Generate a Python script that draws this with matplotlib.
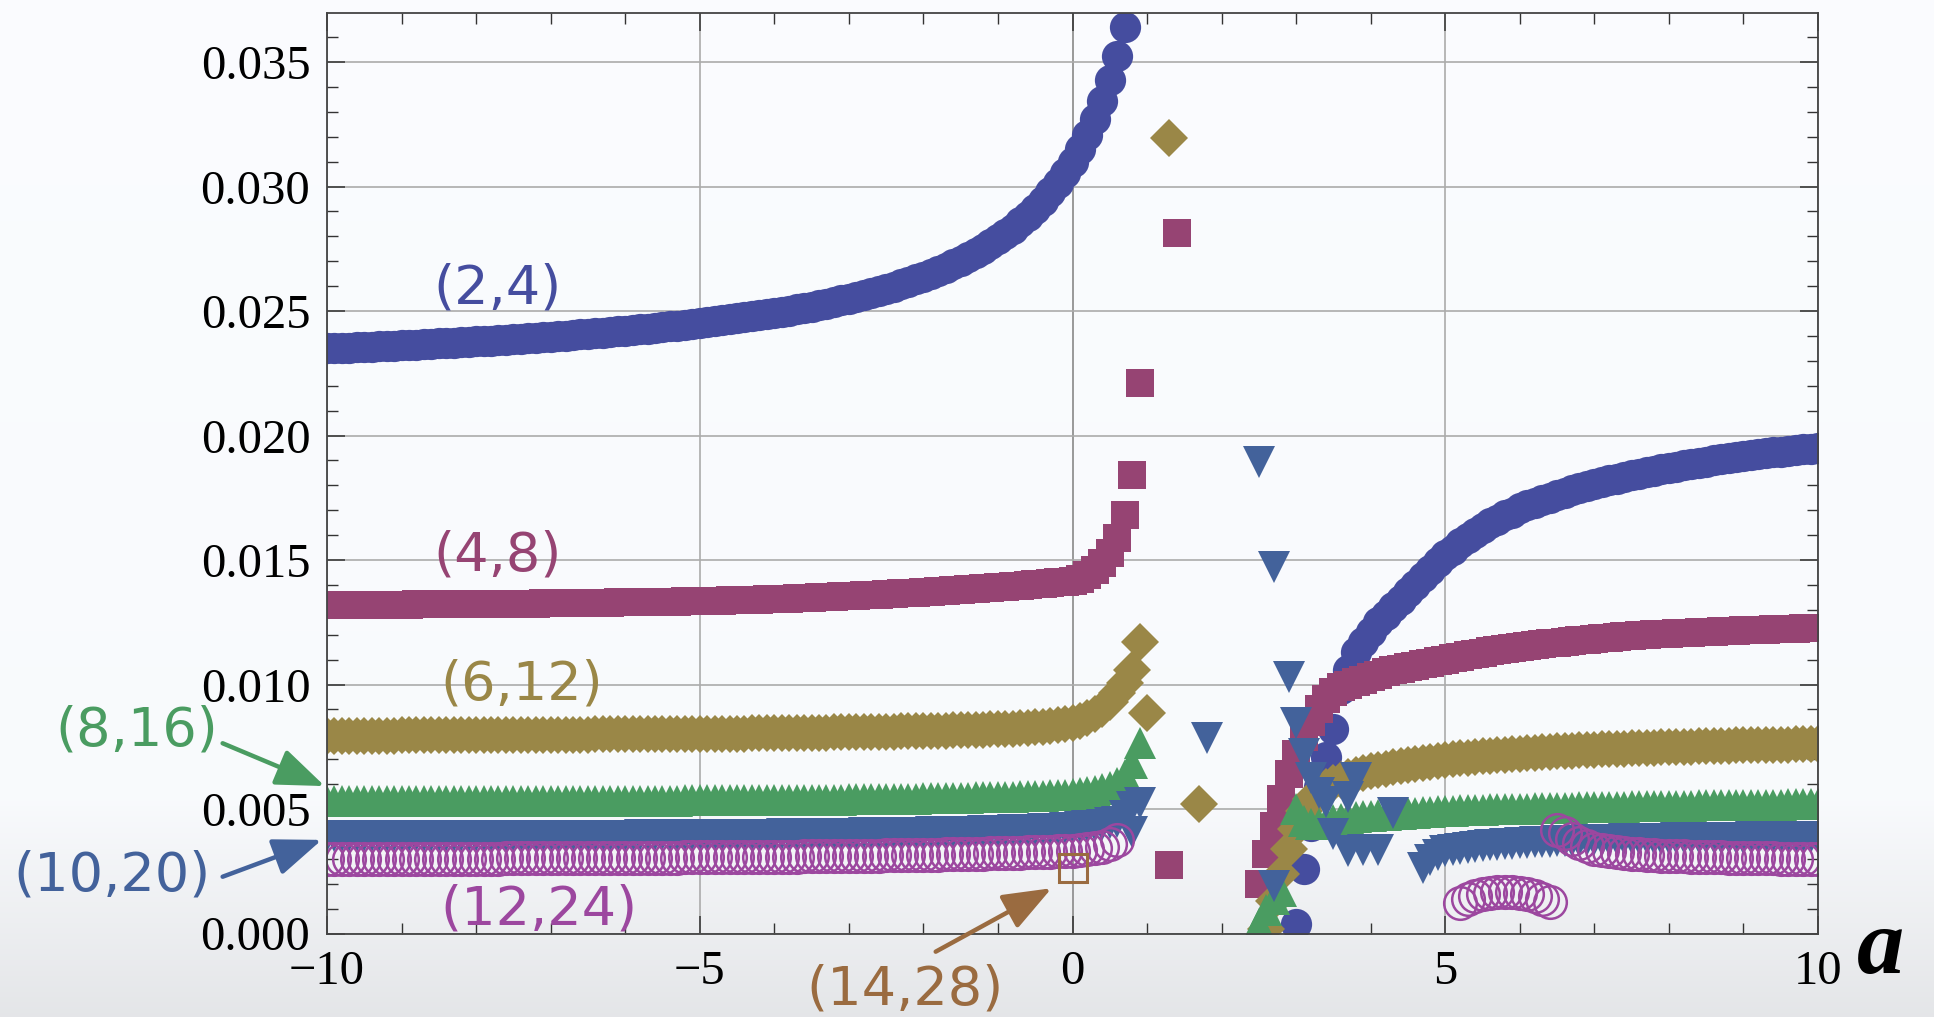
import numpy as np
import matplotlib
matplotlib.use("Agg")
import matplotlib.pyplot as plt
from matplotlib.ticker import MultipleLocator, FormatStrFormatter

# values are in units of 1e-5; each branch is sampled every 0.1 in a,
# starting at the given a value

# (2,4) filled circles
circ_left_start = -10.0
circ_left = [2350, 2351, 2352, 2353, 2355, 2356, 2357, 2358, 2360, 2361,
             2363, 2364, 2365, 2367, 2368, 2370, 2371, 2373, 2375, 2376,
             2378, 2380, 2381, 2383, 2385, 2387, 2389, 2391, 2393, 2395,
             2397, 2399, 2401, 2403, 2406, 2408, 2410, 2413, 2415, 2418,
             2420, 2423, 2426, 2429, 2432, 2435, 2438, 2441, 2444, 2448,
             2451, 2455, 2458, 2462, 2466, 2470, 2474, 2478, 2483, 2487,
             2492, 2497, 2502, 2507, 2513, 2518, 2524, 2530, 2537, 2543,
             2550, 2557, 2565, 2572, 2580, 2589, 2598, 2607, 2617, 2627,
             2638, 2649, 2661, 2674, 2688, 2702, 2717, 2733, 2750, 2768,
             2788, 2809, 2831, 2856, 2882, 2911, 2942, 2976, 3013, 3054,
             3100, 3150, 3207, 3272, 3345, 3429, 3526, 3641]
circ_right_start = 3.0
circ_right = [40, 260, 430, 590, 710, 820, 980, 1060, 1130, 1170,
              1210, 1250, 1280, 1310, 1340, 1370, 1400, 1430, 1460, 1490,
              1520, 1540, 1570, 1590, 1610, 1630, 1650, 1660, 1680, 1690,
              1710, 1720, 1730, 1740, 1750, 1760, 1770, 1780, 1790, 1797,
              1805, 1812, 1820, 1827, 1834, 1840, 1846, 1852, 1858, 1864,
              1870, 1875, 1880, 1885, 1890, 1895, 1900, 1904, 1908, 1912,
              1916, 1920, 1924, 1928, 1932, 1935, 1938, 1941, 1944, 1947,
              1950]

# (4,8) filled squares
sq_left_start = -10.0
sq_left = [1319, 1319, 1319, 1320, 1320, 1320, 1320, 1321, 1321, 1321,
           1321, 1321, 1322, 1322, 1322, 1322, 1322, 1323, 1323, 1323,
           1323, 1323, 1324, 1324, 1324, 1325, 1325, 1325, 1325, 1326,
           1326, 1326, 1327, 1327, 1327, 1328, 1328, 1329, 1329, 1330,
           1330, 1330, 1331, 1331, 1332, 1332, 1333, 1333, 1334, 1334,
           1335, 1336, 1336, 1337, 1338, 1339, 1339, 1340, 1341, 1342,
           1343, 1344, 1345, 1346, 1347, 1349, 1350, 1351, 1353, 1354,
           1356, 1357, 1358, 1360, 1361, 1363, 1364, 1366, 1367, 1369,
           1371, 1373, 1374, 1376, 1378, 1380, 1382, 1384, 1386, 1388,
           1390, 1392, 1394, 1397, 1399, 1402, 1405, 1408, 1411, 1413,
           1416, 1425, 1438, 1458, 1488, 1530, 1590, 1680, 1840, 2210]
sq_right_start = 2.5
sq_right = [200, 320, 430, 540, 640, 720, 790, 850, 900, 940,
            970, 990, 1000, 1010, 1020, 1030, 1040, 1050, 1057, 1064,
            1070, 1076, 1082, 1088, 1094, 1100, 1106, 1112, 1117, 1123,
            1128, 1133, 1137, 1142, 1146, 1150, 1154, 1158, 1161, 1165,
            1168, 1171, 1174, 1177, 1180, 1183, 1186, 1188, 1191, 1193,
            1195, 1197, 1199, 1201, 1202, 1204, 1205, 1207, 1208, 1210,
            1211, 1212, 1213, 1215, 1216, 1217, 1218, 1219, 1220, 1221,
            1222, 1223, 1224, 1225, 1226, 1227]
sq_extra_a = [1.3, 1.4]
sq_extra = [275, 2812]

# (6,12) filled diamonds
dia_left_start = -10.0
dia_left = [794, 794, 794, 794, 795, 795, 795, 795, 795, 795,
            796, 796, 796, 796, 796, 796, 796, 797, 797, 797,
            797, 797, 797, 797, 798, 798, 798, 798, 798, 798,
            799, 799, 799, 799, 799, 799, 800, 800, 800, 800,
            800, 800, 800, 801, 801, 801, 801, 801, 802, 802,
            802, 802, 802, 803, 803, 803, 803, 804, 804, 804,
            805, 805, 805, 806, 806, 806, 807, 807, 808, 808,
            808, 809, 809, 810, 810, 811, 811, 812, 812, 813,
            813, 814, 814, 815, 816, 816, 817, 818, 819, 820,
            821, 822, 823, 825, 826, 828, 830, 833, 836, 840,
            845, 855, 866, 880, 900, 928, 966, 1005, 1060, 1172]
dia_right_start = 2.6
dia_right = [20, 130, 240, 340, 420, 490, 540, 570, 590, 605,
             617, 627, 636, 644, 651, 657, 662, 667, 672, 677,
             681, 685, 689, 693, 697, 700, 703, 706, 709, 711,
             713, 715, 717, 719, 721, 723, 725, 727, 729, 731,
             733, 734, 735, 736, 738, 739, 740, 741, 742, 743,
             744, 745, 746, 747, 748, 749, 750, 751, 752, 753,
             754, 754, 755, 756, 756, 757, 757, 758, 758, 759,
             759, 760, 760, 761, 761]
dia_extra_a = [1.0, 1.3, 1.7]
dia_extra = [884, 3193, 520]

# (8,16) triangles up
tup_left_start = -10.0
tup_left = [531, 531, 531, 531, 531, 531, 531, 531, 531, 531,
            531, 531, 531, 532, 532, 532, 532, 532, 532, 532,
            532, 532, 532, 532, 532, 532, 532, 533, 533, 533,
            533, 533, 533, 533, 533, 533, 533, 533, 534, 534,
            534, 534, 534, 534, 534, 534, 534, 534, 535, 535,
            535, 535, 535, 535, 535, 535, 536, 536, 536, 536,
            536, 536, 537, 537, 537, 537, 538, 538, 538, 538,
            539, 539, 539, 540, 540, 540, 541, 541, 542, 542,
            543, 543, 544, 544, 545, 545, 546, 547, 547, 548,
            549, 549, 550, 551, 552, 553, 554, 555, 556, 558,
            560, 563, 567, 572, 579, 588, 605, 635, 685, 764]
tup_right_start = 2.5
tup_right = [40, 95, 140, 170, np.nan, 500, 450, 440, 440, 448,
             455, 460, 464, 467, 470, 472, 474, 476, 478, 480,
             482, 484, 486, 488, 490, 492, 493, 494, 495, 496,
             497, 498, 499, 500, 501, 502, 502, 503, 504, 504,
             505, 506, 506, 507, 507, 508, 509, 509, 510, 510,
             511, 511, 512, 512, 513, 513, 513, 514, 514, 515,
             515, 515, 516, 516, 516, 517, 517, 517, 518, 518,
             518, 519, 519, 519, 520, 520]

# (10,20) triangles down
tdn_left_start = -10.0
tdn_left = [390, 390, 390, 390, 390, 390, 390, 390, 391, 391,
            391, 391, 391, 391, 391, 391, 391, 391, 391, 391,
            391, 392, 392, 392, 392, 392, 392, 392, 392, 392,
            392, 392, 392, 393, 393, 393, 393, 393, 393, 393,
            393, 393, 394, 394, 394, 394, 394, 394, 395, 395,
            395, 395, 395, 396, 396, 396, 396, 397, 397, 397,
            397, 398, 398, 398, 399, 399, 399, 400, 400, 400,
            401, 401, 402, 402, 403, 403, 403, 404, 404, 405,
            405, 406, 406, 407, 407, 408, 409, 409, 410, 411,
            412, 413, 414, 415, 416, 417, 418, 420, 421, 423,
            425, 427, 430, 433, 437, 442, 448, 470, 510, 525]
tdn_right_start = 4.7
tdn_right = [262, 295, 315,
             330, 336, 341, 345, 349, 352, 355, 357, 359, 361,
             363, 365, 366, 368, 369, 370, 371, 372, 373, 374,
             375, 376, 377, 377, 378, 379, 379, 380, 380, 381,
             381, 382, 382, 383, 383, 384, 384, 384, 385, 385,
             385, 386, 386, 386, 387, 387, 387, 388, 388, 388,
             389]
tdn_extra_a = [0.8, 1.8, 2.5, 2.7, 2.7, 2.9, 3.0, 3.1, 3.2, 3.3,
               3.4, 3.5, 3.7, 3.7, 3.8, 3.9, 4.1, 4.3]
tdn_extra = [409, 784, 1895, 1473, 190, 1031, 844, 720, 625, 563,
             530, 400, 550, 330, 623, 335, 335, 483]

# (12,24) open circles
ring_left_start = -10.0
ring_left = [299, 299, 299, 299, 299, 299, 299, 300, 300, 300,
             300, 300, 300, 300, 300, 300, 301, 301, 301, 301,
             301, 301, 301, 301, 302, 302, 302, 302, 302, 302,
             302, 303, 303, 303, 303, 303, 303, 304, 304, 304,
             304, 304, 304, 305, 305, 305, 305, 305, 306, 306,
             306, 306, 306, 307, 307, 307, 307, 308, 308, 308,
             308, 309, 309, 309, 310, 310, 310, 311, 311, 311,
             312, 312, 312, 313, 313, 314, 314, 315, 315, 316,
             316, 317, 317, 318, 318, 319, 320, 320, 321, 322,
             323, 323, 324, 325, 326, 327, 328, 329, 330, 331,
             333, 335, 338, 342, 348, 358, 376]
ring_arc_start = 5.2
ring_arc = [122, 138, 150, 158, 164, 167, 168, 167, 163, 157, 149, 138, 125]
ring_right_start = 6.5
ring_right = [416, 402, 380, 362, 350, 341, 335, 330, 326, 323,
              320, 318, 316, 314, 313, 312, 311, 310, 309, 308,
              307, 306, 306, 305, 304, 304, 303, 303, 302, 302,
              301, 301, 300, 300, 300, 299]

# (14,28) open square
osq_a = [0.0]
osq = [263]

C_CIRC = "#454d9f"
C_SQ = "#964473"
C_DIA = "#9a8747"
C_TUP = "#4a9c61"
C_TDN = "#43629b"
C_RING = "#9c479f"
C_OSQ = "#9a6b40"

SCALE = 1e-5


def grid(start, vals):
    return start + 0.1 * np.arange(len(vals))


def pts(vals):
    return np.asarray(vals, dtype=float) * SCALE


fig = plt.figure(figsize=(19.34, 10.17), dpi=100)

# pale background with the grey fade at the bottom of the slide
bg = fig.add_axes([0, 0, 1, 1], zorder=-10)
rows = np.linspace(0, 1017, 400)
shade = np.interp(rows, [0, 800, 1017], [0.982, 0.975, 0.895])
tint = np.stack([shade, shade + 0.006, shade + 0.016], axis=-1)
bg.imshow(np.clip(tint, 0, 1)[:, None, :], aspect="auto", extent=[0, 1, 0, 1])
bg.axis("off")

ax = fig.add_axes([327 / 1934, 1 - 933.5 / 1017, (1818 - 327) / 1934, 920.5 / 1017])
ax.set_facecolor("none")

filled = dict(linestyle="none", markeredgewidth=0)

for start, vals in [(circ_left_start, circ_left), (circ_right_start, circ_right)]:
    ax.plot(grid(start, vals), pts(vals), marker="o", ms=22.5, color=C_CIRC, **filled)

for start, vals in [(sq_left_start, sq_left), (sq_right_start, sq_right)]:
    ax.plot(grid(start, vals), pts(vals), marker="s", ms=20, color=C_SQ, **filled)
ax.plot(sq_extra_a, pts(sq_extra), marker="s", ms=20, color=C_SQ, **filled)

for start, vals in [(dia_left_start, dia_left), (dia_right_start, dia_right)]:
    ax.plot(grid(start, vals), pts(vals), marker="D", ms=19.5, color=C_DIA, **filled)
ax.plot(dia_extra_a, pts(dia_extra), marker="D", ms=19.5, color=C_DIA, **filled)

for start, vals in [(tup_left_start, tup_left), (tup_right_start, tup_right)]:
    ax.plot(grid(start, vals), pts(vals), marker="^", ms=23.5, color=C_TUP, **filled)

for start, vals in [(tdn_left_start, tdn_left), (tdn_right_start, tdn_right)]:
    ax.plot(grid(start, vals), pts(vals), marker="v", ms=23, color=C_TDN, **filled)
ax.plot(tdn_extra_a, pts(tdn_extra), marker="v", ms=23, color=C_TDN, **filled)

for start, vals in [(ring_left_start, ring_left), (ring_arc_start, ring_arc),
                    (ring_right_start, ring_right)]:
    ax.plot(grid(start, vals), pts(vals), marker="o", ms=23.5, mfc="none",
            mec=C_RING, mew=1.8, linestyle="none")

ax.plot(osq_a, pts(osq), marker="s", ms=20, mfc="none", mec=C_OSQ, mew=2.2,
        linestyle="none")

ax.set_xlim(-10, 10)
ax.set_ylim(0, 920.5 / 24900)
ax.xaxis.set_major_locator(MultipleLocator(5))
ax.xaxis.set_minor_locator(MultipleLocator(1))
ax.yaxis.set_major_locator(MultipleLocator(0.005))
ax.yaxis.set_minor_locator(MultipleLocator(0.001))
ax.yaxis.set_major_formatter(FormatStrFormatter("%.3f"))

ax.set_axisbelow(True)
ax.grid(True, which="major", color="#ababab", lw=1.2)
ax.axvline(0, color="#3a3a3a", lw=1.3, zorder=0.5)
for sp in ax.spines.values():
    sp.set_color("#444444")
    sp.set_linewidth(1.3)
ax.tick_params(which="both", direction="in", top=True, right=True, color="#333333")
ax.tick_params(which="major", length=13, width=1.1, labelsize=35)
ax.tick_params(which="minor", length=8, width=1.0)
ax.tick_params(axis="y", pad=12)
ax.tick_params(axis="x", pad=12)
for lab in ax.get_xticklabels() + ax.get_yticklabels():
    lab.set_fontfamily("Liberation Serif")

fig.text(1881 / 1934, 1 - 950 / 1017, "a", fontsize=68, fontfamily="Liberation Serif",
         fontweight="bold", fontstyle="italic", ha="center", va="center")

# series labels
label_font = dict(fontsize=39, fontfamily="DejaVu Sans", ha="center", va="center")
ax.text(-7.71, 0.0259, "(2,4)", color=C_CIRC, **label_font)
ax.text(-7.71, 0.0152, "(4,8)", color=C_SQ, **label_font)
ax.text(-7.39, 0.0100, "(6,12)", color=C_DIA, **label_font)
ax.text(-12.55, 0.00817, "(8,16)", color=C_TUP, clip_on=False, **label_font)
ax.text(-12.88, 0.00231, "(10,20)", color=C_TDN, clip_on=False, **label_font)
ax.text(-7.16, 0.00098, "(12,24)", color=C_RING, **label_font)
ax.text(-2.25, -0.00223, "(14,28)", color=C_OSQ, clip_on=False, **label_font)

arrow = dict(arrowstyle="-|>,head_length=1.3,head_width=0.5", lw=3.2,
             mutation_scale=23, shrinkA=0, shrinkB=0)
ax.annotate("", xy=(-10.03, 0.00592), xytext=(-11.40, 0.00764),
            arrowprops=dict(color=C_TUP, **arrow), annotation_clip=False)
ax.annotate("", xy=(-10.07, 0.00376), xytext=(-11.40, 0.00228),
            arrowprops=dict(color=C_TDN, **arrow), annotation_clip=False)
ax.annotate("", xy=(-0.28, 0.00182), xytext=(-1.835, -0.00073),
            arrowprops=dict(color=C_OSQ, **arrow), annotation_clip=False)

fig.savefig("out.png", dpi=100)
plt.close(fig)
